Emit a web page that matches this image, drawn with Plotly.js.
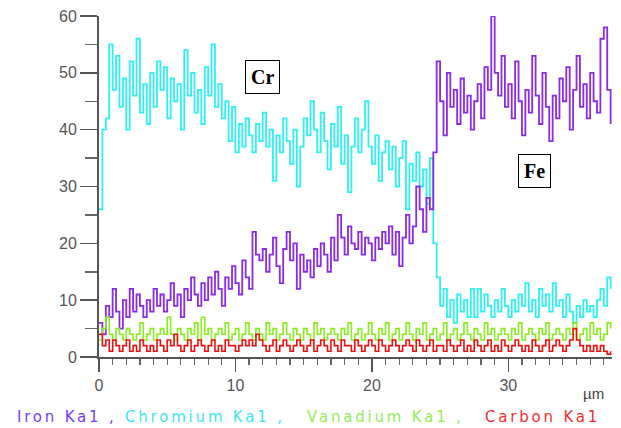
<!DOCTYPE html>
<html><head><meta charset="utf-8">
<script src="https://cdn.plot.ly/plotly-3.0.1.min.js"></script>
<style>html,body{margin:0;padding:0;background:#fff}#chart{width:621px;height:428px}</style>
</head><body><div id="chart"></div>
<script>
// distance step 0.25 µm starting at 0 µm
var xStart = 0, xStep = 0.25;
var chromium = [
26,40,42,55,47,53,44,49,40,52,
46,56,43,48,41,50,44,52,47,51,
42,49,45,48,40,54,46,50,43,47,
41,51,46,55,44,48,42,45,38,44,
36,41,37,42,39,36,41,38,43,37,
40,31,39,36,42,38,34,40,30,37,
42,39,45,40,36,43,38,33,41,37,
44,34,39,29,37,42,36,40,45,37,
34,39,31,36,38,33,37,30,35,38,
26,34,31,36,30,33,27,35,20,14,
9,12,7,10,6,11,8,10,7,12,
7,12,8,11,9,7,10,8,12,9,
7,10,8,11,9,13,8,10,7,12,
9,11,8,13,9,10,7,11,8,6,
9,7,10,8,9,7,10,12,9,14,
12];
var iron = [
6,4,9,7,12,8,5,10,7,12,
8,11,9,7,10,8,12,9,11,8,
10,13,9,11,7,12,10,14,11,9,
13,10,14,11,15,12,9,14,12,16,
13,11,17,14,12,22,18,17,19,15,
18,21,16,13,19,22,17,20,12,18,
15,17,14,19,16,20,18,15,21,17,
25,21,18,23,20,19,22,18,21,20,
17,21,19,22,20,23,18,22,16,21,
25,20,23,30,26,22,28,26,36,52,
45,39,50,44,47,41,49,43,46,40,
45,48,42,51,47,60,50,46,53,44,
48,42,52,45,39,47,43,53,46,41,
50,44,38,46,42,49,45,51,40,47,
53,44,48,42,50,45,43,56,58,47,
41];
var vanadium = [
3,5,7,4,3,5,4,3,5,4,
3,4,6,3,4,5,3,4,5,4,
7,4,3,5,4,3,5,4,6,3,
7,4,5,3,4,5,4,6,3,4,
5,3,4,6,4,3,5,4,3,6,
4,5,3,4,6,4,3,5,4,3,
5,4,3,6,4,5,3,4,5,4,
3,5,4,6,3,4,5,3,4,6,
4,3,5,4,6,3,4,5,3,4,
6,4,3,5,4,6,3,4,5,3,
4,6,3,4,5,3,4,6,4,3,
5,4,3,6,4,5,3,4,5,4,
3,5,4,6,3,4,5,4,3,5,
4,6,3,4,5,4,3,5,4,6,
3,4,5,3,6,4,5,3,4,6,
5];
var carbon = [
4,2,3,1,3,2,1,2,3,1,
2,1,3,2,1,2,1,3,2,1,
3,2,4,2,1,2,3,1,2,3,
2,1,2,3,1,2,1,3,2,2,
1,2,3,2,3,2,4,3,2,1,
2,3,1,2,3,2,1,2,3,2,
1,2,3,1,2,3,2,1,3,2,
1,3,2,2,1,3,2,1,2,3,
2,1,3,2,1,2,3,2,1,2,
3,2,1,3,2,1,2,3,1,2,
2,1,3,2,1,2,3,1,2,1,
3,2,1,2,3,1,2,1,3,2,
1,2,3,2,1,2,1,3,2,1,
2,3,1,2,3,2,1,2,3,5,
3,2,1,2,1,2,1,2,1,0.5,
1];
var seriesNames = ["Iron Ka1", "Chromium Ka1", "Vanadium Ka1", "Carbon Ka1"];
var xTickVals = [0, 10, 20, 30];
var yTickVals = [0, 10, 20, 30, 40, 50, 60];
var unitLabel = "µm";

var colors = {iron:"#8a2be8", cr:"#2ff0f0", v:"#88ee22", c:"#ee1111"};
function tr(y, c, n, w){ return {type:"scatter", mode:"lines", x0:xStart, dx:xStep, y:y, name:n,
  line:{color:c, width:w, shape:"hv"}, hoverinfo:"skip"}; }
var data = [tr(chromium, colors.cr, seriesNames[1], 1.8), tr(iron, colors.iron, seriesNames[0], 1.8),
            tr(vanadium, colors.v, seriesNames[2], 1.6), tr(carbon, colors.c, seriesNames[3], 1.6)];

var L = 99, W = 513;
function px(p){ return (p - L) / W; }
var legFont = {family:"DejaVu Sans", size:15};
function leg(text, color, p){
  return {xref:"paper", yref:"paper", x:px(p), y:-0.175, xanchor:"left", yanchor:"middle", showarrow:false,
    text:'<span style="letter-spacing:2.8px">'+text+'</span>', font:{family:legFont.family, size:legFont.size, color:color}};
}
var layout = {
  width:621, height:428, margin:{l:99, r:9, t:16, b:71},
  paper_bgcolor:"#fff", plot_bgcolor:"#fff", showlegend:false,
  xaxis:{range:[0,37.6], tickvals:xTickVals, ticks:"outside", ticklen:13, tickwidth:1.5, tickcolor:"#555",
    showline:true, linecolor:"#555", linewidth:2, showgrid:false, zeroline:false,
    minor:{dtick:1, tick0:0, ticks:"outside", ticklen:6, tickwidth:1.2, tickcolor:"#666", showgrid:false},
    tickfont:{family:"Liberation Sans", size:16, color:"#555"}},
  yaxis:{range:[0,60], tickvals:yTickVals, ticks:"outside", ticklen:17, tickwidth:1.5, tickcolor:"#555",
    showline:true, linecolor:"#555", linewidth:2, showgrid:false, zeroline:false,
    minor:{dtick:5, tick0:0, ticks:"outside", ticklen:12, tickwidth:1.5, tickcolor:"#666", showgrid:false},
    tickfont:{family:"Liberation Sans", size:16, color:"#555"}},
  annotations:[
    {x:11.96, y:49.3, xref:"x", yref:"y", text:"<b>Cr</b>", showarrow:false, font:{family:"Liberation Serif", size:20, color:"#000"},
      bordercolor:"#000", borderwidth:1, borderpad:5, bgcolor:"#fff"},
    {x:31.9, y:32.7, xref:"x", yref:"y", text:"<b>Fe</b>", showarrow:false, font:{family:"Liberation Serif", size:20, color:"#000"},
      bordercolor:"#000", borderwidth:1, borderpad:5, bgcolor:"#fff"},
    {xref:"paper", yref:"paper", x:px(606), y:-0.108, xanchor:"right", yanchor:"middle", showarrow:false,
      text:unitLabel, font:{family:"Liberation Sans", size:15, color:"#444"}},
    leg(seriesNames[0]+" ,", "#7a3cf0", 15),
    leg(seriesNames[1]+" ,", "#40e6f0", 123),
    leg(seriesNames[2]+" ,", "#98ec58", 305),
    leg(seriesNames[3], "#f03030", 483)
  ]
};
Plotly.newPlot("chart", data, layout, {displayModeBar:false, staticPlot:true});
</script></body></html>
